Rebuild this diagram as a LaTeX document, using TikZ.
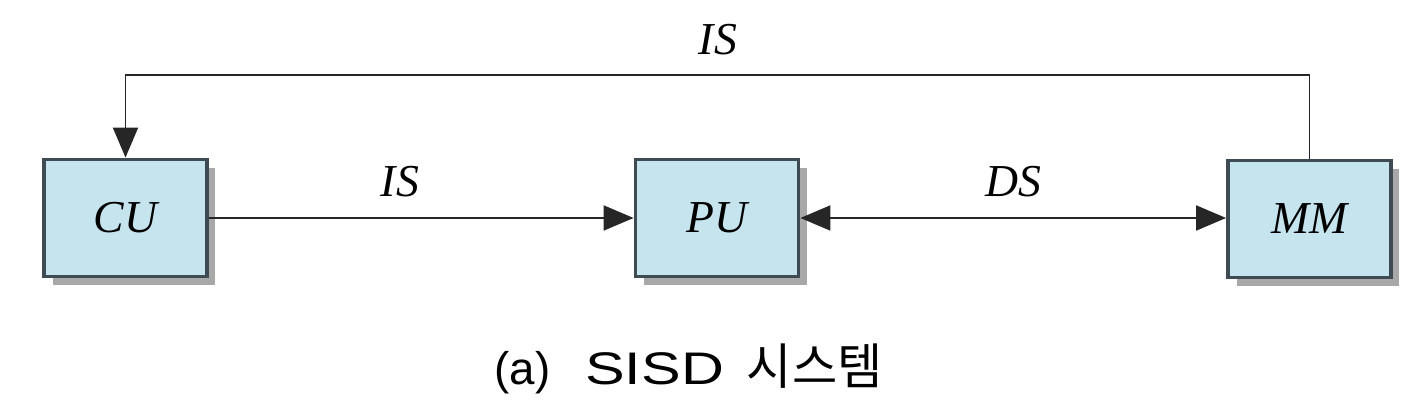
\documentclass[tikz,border=0pt]{standalone}
\usepackage{fontspec}
\setmainfont{Liberation Serif}
\newfontfamily\krfont{Noto Sans CJK KR}
\newfontfamily\capfont{Liberation Sans}
\usetikzlibrary{arrows.meta,shadows}
\definecolor{boxfill}{HTML}{C6E4EE}
\definecolor{boxline}{HTML}{3E4B52}
\definecolor{shadowgray}{HTML}{A8A8A8}
\tikzset{
  unitbox/.style={draw=boxline, line width=2.2pt, fill=boxfill,
    minimum width=3.26cm, minimum height=2.34cm, inner sep=0pt,
    font=\fontsize{26}{30}\selectfont\itshape,
    drop shadow={shadow xshift=0.17cm, shadow yshift=-0.17cm, fill=shadowgray, opacity=1}},
  conn/.style={line width=1.1pt, draw=black!85},
  tip/.style={-{Triangle[length=0.6cm,width=0.5cm]}},
  lbl/.style={font=\fontsize{26}{30}\selectfont\itshape, inner sep=0pt},
}
\begin{document}
\begin{tikzpicture}[x=0.02cm,y=-0.02cm]
\useasboundingbox (0,0) rectangle (1428,404);
\node[unitbox] (cu) at (125.5,218) {CU};
\node[unitbox] (pu) at (717,218) {PU};
\node[unitbox] (mm) at (1309.5,219) {MM};
\coordinate (tr) at (1309.5,75);
\coordinate (tl) at (125.5,75);
\draw[conn,tip] (mm.north) -- (tr) -- (tl) -- (cu.north);
\draw[conn,tip] (cu.east) -- (pu.west);
\draw[conn,{Triangle[length=0.6cm,width=0.5cm]}-{Triangle[length=0.6cm,width=0.5cm]}] (pu.east) -- (mm.west |- pu.east);
\node[lbl] (is1) at (718,40) {IS};
\node[lbl] (is2) at (400,182) {IS};
\node[lbl] (ds) at (1013,182) {DS};
\node[inner sep=0pt, anchor=base] (cap) at (688.5,385)
  {\capfont\fontsize{26}{30}\selectfont (a)\hspace{20pt}\scalebox{1.3}[1]{SISD}\hspace{13pt}{\krfont\fontsize{28}{30}\selectfont 시스템}};
\end{tikzpicture}
\end{document}
